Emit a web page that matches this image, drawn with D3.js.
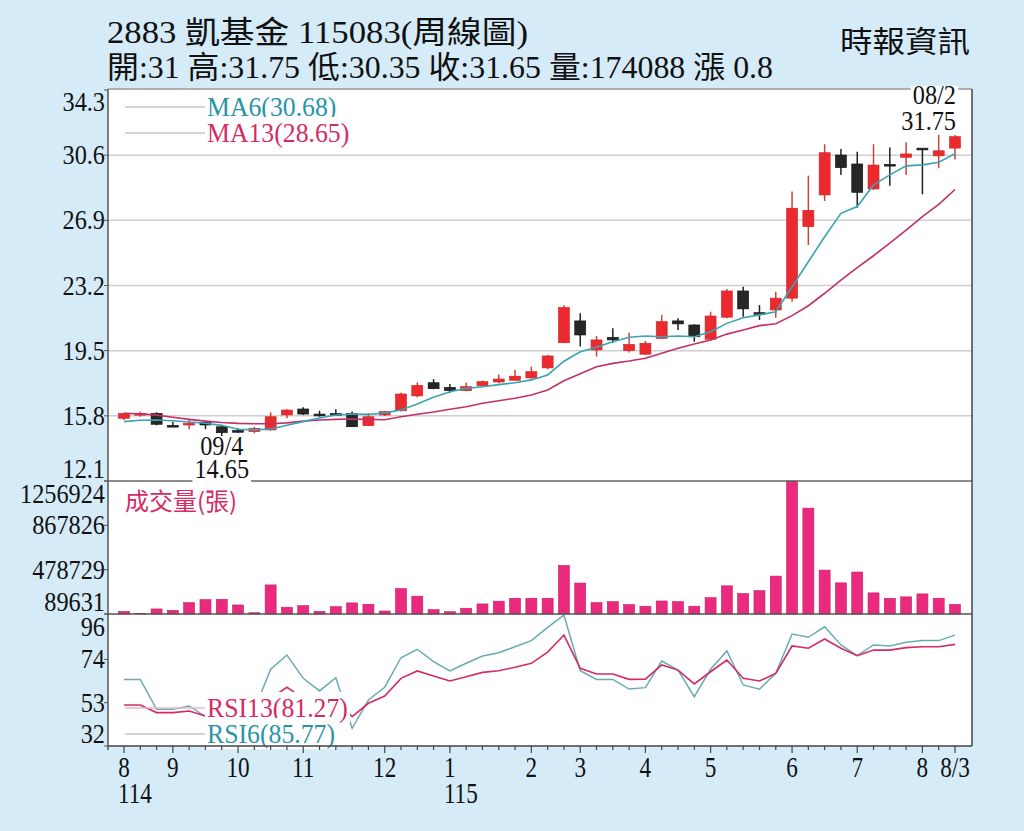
<!DOCTYPE html>
<html>
<head>
<meta charset="utf-8">
<script src="https://cdn.jsdelivr.net/npm/d3@7"></script>
<style>
  body { margin: 0; background: #d5ebf8; }
  svg { display: block; }
</style>
</head>
<body>
<div id="chart"></div>
<script>
// weekly bars, 114/08 .. 115/08 (ROC years)
const weeks = [
  "114/08/1","114/08/2","114/08/3",
  "114/09/1","114/09/2","114/09/3","114/09/4",
  "114/10/1","114/10/2","114/10/3","114/10/4",
  "114/11/1","114/11/2","114/11/3","114/11/4","114/11/5",
  "114/12/1","114/12/2","114/12/3","114/12/4",
  "115/01/1","115/01/2","115/01/3","115/01/4","115/01/5",
  "115/02/1","115/02/2","115/02/3",
  "115/03/1","115/03/2","115/03/3","115/03/4",
  "115/04/1","115/04/2","115/04/3","115/04/4",
  "115/05/1","115/05/2","115/05/3","115/05/4","115/05/5",
  "115/06/1","115/06/2","115/06/3","115/06/4",
  "115/07/1","115/07/2","115/07/3","115/07/4",
  "115/08/1","115/08/2","115/08/3"
];

const open  = [15.66,15.87,15.94,15.26,15.34,15.43,15.18,14.97,14.90,15.00,15.85,16.19,15.90,15.93,15.94,15.24,15.85,16.09,16.93,17.68,
               17.42,17.23,17.51,17.72,17.82,17.95,18.52,19.95,21.19,19.54,20.26,19.50,19.30,20.20,21.19,20.96,20.15,21.40,22.89,21.66,
               21.81,22.48,26.54,28.34,30.61,30.10,28.68,30.08,30.48,31.00,30.56,31.00];
const high  = [15.98,16.04,16.00,15.45,15.56,15.52,15.22,15.09,15.18,16.00,16.17,16.29,16.09,16.17,16.04,15.96,16.08,17.11,17.70,17.88,
               17.61,17.68,17.80,18.14,18.40,18.59,19.26,22.08,21.62,20.33,20.77,20.52,20.05,21.53,21.34,21.00,21.71,23.00,23.13,22.09,
               22.85,28.53,29.44,31.22,30.95,30.80,31.22,31.03,31.33,31.00,31.75,31.75];
const low   = [15.56,15.75,15.26,15.20,15.02,15.04,14.65,14.84,14.81,14.96,15.66,15.85,15.75,15.90,15.17,15.22,15.79,16.04,16.85,17.31,
               17.11,17.19,17.46,17.65,17.80,17.91,18.44,19.92,19.73,19.16,19.95,19.39,19.26,20.16,20.68,20.01,20.07,21.34,21.43,21.24,
               21.37,22.28,25.50,28.00,29.48,27.62,28.63,28.87,29.48,28.38,29.86,30.35];
const close = [15.94,15.94,15.32,15.22,15.38,15.28,14.84,14.94,15.09,15.75,16.13,15.90,15.81,15.92,15.18,15.75,16.04,17.04,17.53,17.34,
               17.23,17.46,17.74,17.89,18.05,18.31,19.20,21.95,20.39,20.11,20.11,19.86,19.92,21.15,21.02,20.29,21.47,22.89,21.87,21.57,
               22.48,27.59,27.47,30.74,29.89,28.49,30.04,30.00,30.67,30.97,30.85,31.65];

const volume = [113000,96000,134000,122000,189000,216000,219000,169000,101000,345000,149000,163000,113000,154000,187000,175000,
                116000,313000,246000,128000,110000,140000,178000,202000,228000,228000,228000,516000,361000,189000,198000,172000,
                158000,204000,198000,158000,233000,337000,269000,295000,422000,1256924,1019000,475000,363000,458000,275000,228000,
                240000,266000,228000,174088];

const ma6  = [15.47,15.55,15.56,15.52,15.45,15.38,15.26,15.04,15.00,15.05,15.26,15.47,15.68,15.85,15.90,15.88,15.97,16.13,16.47,16.85,
              17.17,17.36,17.45,17.57,17.68,17.84,18.12,18.90,19.44,19.69,20.01,20.26,20.33,20.29,20.33,20.29,20.58,21.05,21.37,21.53,
              21.71,23.13,24.55,25.97,27.30,27.68,28.91,29.48,29.99,30.05,30.20,30.68];
const ma13 = [15.94,15.92,15.84,15.72,15.60,15.50,15.42,15.37,15.35,15.35,15.40,15.50,15.56,15.60,15.62,15.60,15.58,15.75,15.89,16.02,
              16.17,16.32,16.51,16.66,16.80,16.98,17.27,17.79,18.19,18.59,18.78,18.91,19.07,19.35,19.64,19.88,20.11,20.44,20.67,20.92,
              21.03,21.49,22.05,22.76,23.51,24.21,24.89,25.60,26.35,27.11,27.81,28.65];

const rsi6  = [64.3,64.3,49.8,49.8,51.4,46.2,32.0,38.0,49.5,69.2,76.1,64.8,58.7,65.1,40.6,54.3,60.5,74.8,78.9,72.9,
               68.4,72.1,75.6,77.2,80.1,83.1,89.5,95.5,68.5,64.3,64.3,59.6,60.3,73.2,68.8,55.9,69.2,78.1,61.6,59.5,
               67.2,86.3,84.7,89.8,81.0,75.8,81.0,80.5,82.3,83.1,83.1,85.77];
const rsi13 = [51.9,51.9,48.2,48.2,49.0,46.5,42.0,42.0,47.0,55.1,60.5,55.1,52.0,55.0,46.2,52.7,56.2,64.8,68.4,65.9,
               63.5,65.6,67.7,68.5,70.2,72.1,77.5,85.8,69.7,66.9,66.9,64.3,64.4,71.3,68.8,62.1,68.0,73.7,64.8,63.5,
               67.2,80.5,79.4,83.9,79.4,75.8,78.5,78.5,79.7,80.1,80.1,81.27];

const priceTicks  = [34.3, 30.6, 26.9, 23.2, 19.5, 15.8, 12.1];
const volumeTicks = [1256924, 867826, 478729, 89631];
const rsiTicks    = [96, 74, 53, 32];

const monthWeeks  = ["114/08/1","114/09/1","114/10/1","114/11/1","114/12/1","115/01/1","115/02/1",
                     "115/03/1","115/04/1","115/05/1","115/06/1","115/07/1","115/08/1","115/08/3"];
const monthLabels = ["8","9","10","11","12","1","2","3","4","5","6","7","8","8/3"];
const yearWeeks   = ["114/08/1","115/01/1"];
const yearLabels  = ["114","115"];

const titleText = "2883  凱基金 115083(周線圖)";
const quoteText = "開:31 高:31.75 低:30.35 收:31.65 量:174088 漲 0.8";

// layout
const W = 1024, H = 831;
const left = 108, right = 972;
const pTop = 89, pBot = 481, vBot = 614, rBot = 746;
const serif = "'Liberation Serif','Noto Sans CJK TC',serif";

const svg = d3.select("#chart").append("svg")
  .attr("width", W)
  .attr("height", H);

svg.append("rect").attr("width", W).attr("height", H).attr("fill", "#d5ebf8");
svg.append("rect")
  .attr("x", left).attr("y", pTop)
  .attr("width", right - left).attr("height", rBot - pTop)
  .attr("fill", "#fff");

const x = d3.scalePoint().domain(weeks).range([124, 955]);
const yP = d3.scaleLinear().domain([12.1, 34.3]).range([pBot, pTop + 1]);
const yV = d3.scaleLinear().domain([89631, 1256924]).range([vBot, pBot]);
const yR = d3.scaleLinear().domain([32, 96]).range([rBot, vBot]);

// condensed serif text helper
function label(sel, px, py, str, o = {}) {
  const sx = o.sx || 0.84;
  const t = sel.append("text")
    .attr("transform", `translate(${px},${py}) scale(${sx},1)`)
    .attr("text-anchor", o.anchor || "start")
    .attr("font-family", serif)
    .attr("font-size", o.size || 29)
    .attr("fill", o.color || "#111")
    .text(str);
  if (o.bg) {
    const bb = t.node().getBBox();
    sel.insert("rect", () => t.node())
      .attr("x", px + bb.x * sx - 2)
      .attr("y", py + bb.y + (o.bgTop || 0))
      .attr("width", bb.width * sx + 4)
      .attr("height", bb.height - (o.bgTop || 0))
      .attr("fill", "#fff");
  }
  return t;
}

// price grid
const g = svg.append("g");
g.selectAll(".grid").data(priceTicks.slice(1, -1)).enter().append("line")
  .attr("x1", left).attr("x2", right)
  .attr("y1", d => yP(d)).attr("y2", d => yP(d))
  .attr("stroke", "#cfcfcf").attr("stroke-width", 1.5);

// y-axis labels, clamped inside each panel
function yLabels(ticks, scale, fmt, top, bot) {
  ticks.forEach(v => {
    const cy = Math.min(Math.max(scale(v), top + 13), bot - 12);
    label(svg, left - 3, cy + 9, fmt(v), {anchor: "end", size: 27, sx: 0.9});
    svg.append("line")
      .attr("x1", left - 4).attr("x2", left)
      .attr("y1", scale(v)).attr("y2", scale(v))
      .attr("stroke", "#555");
  });
}
yLabels(priceTicks, yP, d => d.toFixed(1), pTop, pBot);
yLabels(volumeTicks, yV, d => String(d), pBot, vBot);
yLabels(rsiTicks, yR, d => String(d), vBot, rBot);

// candles
const candles = g.selectAll(".candle").data(weeks).enter().append("g");
candles.append("line")
  .attr("x1", d => x(d)).attr("x2", d => x(d))
  .attr("y1", (d, i) => yP(high[i])).attr("y2", (d, i) => yP(low[i]))
  .attr("stroke", (d, i) => close[i] >= open[i] ? "#c8443c" : "#222")
  .attr("stroke-width", 1.5);
candles.append("rect")
  .attr("x", d => x(d) - 5.5)
  .attr("width", 11)
  .attr("y", (d, i) => yP(Math.max(open[i], close[i])))
  .attr("height", (d, i) => Math.max(1.8, Math.abs(yP(open[i]) - yP(close[i]))))
  .attr("fill", (d, i) => close[i] >= open[i] ? "#ea2a2c" : "#262626")
  .attr("stroke", (d, i) => close[i] >= open[i] ? "#d0242a" : "#111")
  .attr("stroke-width", 0.6);

// moving averages
const lineOf = (arr, scale) => d3.line()
  .x((d, i) => x(weeks[i]))
  .y(d => scale(d))(arr);
g.append("path").attr("d", lineOf(ma13, yP))
  .attr("fill", "none").attr("stroke", "#c2306a").attr("stroke-width", 1.6);
g.append("path").attr("d", lineOf(ma6, yP))
  .attr("fill", "none").attr("stroke", "#3aa3b4").attr("stroke-width", 1.6);

// volume bars
g.selectAll(".vol").data(weeks).enter().append("rect")
  .attr("x", d => x(d) - 5.5)
  .attr("width", 11)
  .attr("y", (d, i) => yV(volume[i]))
  .attr("height", (d, i) => vBot - yV(volume[i]))
  .attr("fill", "#ea2a7c")
  .attr("stroke", "#c81f63")
  .attr("stroke-width", 0.6);

// RSI lines
g.append("path").attr("d", lineOf(rsi6, yR))
  .attr("fill", "none").attr("stroke", "#6aaab2").attr("stroke-width", 1.5);
g.append("path").attr("d", lineOf(rsi13, yR))
  .attr("fill", "none").attr("stroke", "#d42a68").attr("stroke-width", 1.6);

// legends
function legend(cy, text, lineColor, textColor) {
  svg.append("line")
    .attr("x1", 125).attr("x2", 207)
    .attr("y1", cy).attr("y2", cy)
    .attr("stroke", lineColor).attr("stroke-width", 1.5);
  label(svg, 207, cy + 9, text, {size: 28, sx: 0.92, color: textColor, bg: true});
}
legend(107, "MA6(30.68)", "#c4c4c4", "#2a93a8");
legend(133, "MA13(28.65)", "#c4c4c4", "#d42a66");
legend(708, "RSI13(81.27)", "#e9b9c8", "#d42a66");
legend(734, "RSI6(85.77)", "#c4c4c4", "#2a93a8");

svg.append("text")
  .attr("x", 125).attr("y", 510)
  .attr("font-family", "'Noto Sans CJK TC',sans-serif")
  .attr("font-size", 24)
  .attr("fill", "#d42a66")
  .text("成交量(張)");

// panel borders and axes
const border = (x1, y1, x2, y2, c, w) => svg.append("line")
  .attr("x1", x1).attr("y1", y1).attr("x2", x2).attr("y2", y2)
  .attr("stroke", c).attr("stroke-width", w);
border(left, pTop, right, pTop, "#9a9a9a", 1.5);
border(left, pBot, right, pBot, "#666", 1.5);
border(left, vBot, right, vBot, "#555", 1.5);
border(left, rBot, right, rBot, "#444", 1.5);
border(left, pTop, left, rBot + 4, "#555", 1.5);
border(right, pTop, right, rBot, "#444", 1.5);

// x ticks
svg.selectAll(".xt").data(weeks).enter().append("line")
  .attr("x1", d => x(d)).attr("x2", d => x(d))
  .attr("y1", rBot).attr("y2", d => monthWeeks.includes(d) ? rBot + 7 : rBot + 4)
  .attr("stroke", "#444").attr("stroke-width", 1.2);
monthWeeks.forEach((w, i) => label(svg, x(w), 777, monthLabels[i], {anchor: "middle", sx: 0.8}));
yearWeeks.forEach((w, i) => label(svg, x(w) - 6, 803, yearLabels[i], {sx: 0.8}));

// extreme annotations
const lowIdx = low.indexOf(d3.min(low));
label(svg, x(weeks[lowIdx]), 455, "09/4", {anchor: "middle", size: 27, sx: 0.9});
label(svg, x(weeks[lowIdx]), 478, d3.min(low).toFixed(2), {anchor: "middle", size: 27, sx: 0.9, bg: true, bgTop: 6});
label(svg, x(weeks[weeks.length - 1]) + 1, 104, "08/2", {anchor: "end", size: 27, sx: 0.9, bg: true, bgTop: 6});
label(svg, x(weeks[weeks.length - 1]) + 1, 130, d3.max(high).toFixed(2), {anchor: "end", size: 27, sx: 0.9});

// header
svg.append("text")
  .attr("x", 107).attr("y", 43)
  .attr("font-family", serif).attr("font-size", 31).attr("fill", "#111")
  .attr("textLength", 421).attr("lengthAdjust", "spacingAndGlyphs")
  .text(titleText);
svg.append("text")
  .attr("x", 107).attr("y", 78)
  .attr("font-family", serif).attr("font-size", 31).attr("fill", "#111")
  .attr("textLength", 666).attr("lengthAdjust", "spacingAndGlyphs")
  .text(quoteText);
svg.append("text")
  .attr("x", 840).attr("y", 52)
  .attr("font-family", "'Noto Sans CJK TC',sans-serif").attr("font-size", 30).attr("fill", "#111")
  .attr("textLength", 130).attr("lengthAdjust", "spacingAndGlyphs")
  .text("時報資訊");
</script>
</body>
</html>
